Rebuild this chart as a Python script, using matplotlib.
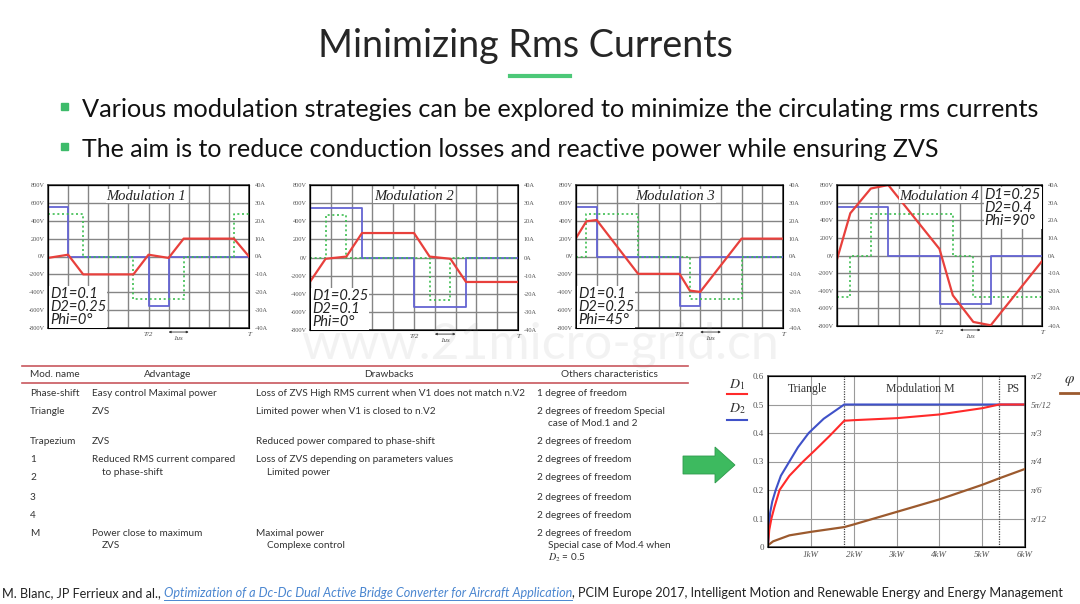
import matplotlib
matplotlib.use("Agg")
import matplotlib.pyplot as plt
import numpy as np
from matplotlib.lines import Line2D
from matplotlib.patches import Polygon, Rectangle

W, H = 1080, 604
SANS = ["Lato", "DejaVu Sans"]
SERIF = ["Liberation Serif", "DejaVu Serif"]
plt.rcParams["font.family"] = SANS
plt.rcParams["mathtext.fontset"] = "stix"

TITLE = "Minimizing Rms Currents"
BULLETS = ["Various modulation strategies can be explored to minimize the circulating rms currents",
           "The aim is to reduce conduction losses and reactive power while ensuring ZVS"]

# waveforms: time in grid units (T = 10), voltages in V, current in A
M1_V1_T = [0, 1, 1, 5, 5, 6, 6, 10]
M1_V1 = [550, 550, 0, 0, -550, -550, 0, 0]
M1_V2_T = [0, 1.75, 1.75, 4.25, 4.25, 6.75, 6.75, 9.25, 9.25, 10]
M1_V2 = [470, 470, 0, 0, -470, -470, 0, 0, 470, 470]
M1_I_T = [0, 1, 1.75, 4.25, 5, 6, 6.75, 9.25, 10]
M1_I = [-0.8, 1, -10, -10, 1, -0.8, 10, 10, 0]

M2_V1_T = [0, 2.5, 2.5, 5, 5, 7.5, 7.5, 10]
M2_V1 = [550, 550, 0, 0, -550, -550, 0, 0]
M2_V2_T = [0, 0.75, 0.75, 1.75, 1.75, 5.75, 5.75, 6.75, 6.75, 10]
M2_V2 = [0, 0, 470, 470, 0, 0, -470, -470, 0, 0]
M2_I_T = [0, 0.75, 1.75, 2.5, 5, 5.75, 6.75, 7.5, 10]
M2_I = [-13.4, -0.7, 0.5, 13.5, 13.5, 0.5, -0.7, -13.5, -13.5]

M3_V1_T = [0, 1, 1, 5, 5, 6, 6, 10]
M3_V1 = [550, 550, 0, 0, -550, -550, 0, 0]
M3_V2_T = [0, 0.5, 0.5, 3, 3, 5.5, 5.5, 8, 8, 10]
M3_V2 = [0, 0, 470, 470, 0, 0, -470, -470, 0, 0]
M3_I_T = [0, 0.5, 1, 3, 5, 5.5, 6, 8, 10]
M3_I = [10.3, 19.7, 20.4, -9.7, -9.7, -19.1, -19.8, 10, 10]

M4_V1_T = [0, 2.5, 2.5, 5, 5, 7.5, 7.5, 10]
M4_V1 = [550, 550, 0, 0, -550, -550, 0, 0]
M4_V2_T = [0, 0.65, 0.65, 1.65, 1.65, 5.65, 5.65, 6.65, 6.65, 10]
M4_V2 = [-470, -470, 0, 0, 470, 470, 0, 0, -470, -470]
M4_I_T = [0, 0.65, 1.65, 2.5, 5, 5.65, 6.65, 7.5, 10]
M4_I = [-2.2, 24, 38, 40, 3.7, -22.6, -37.7, -39.6, -3.2]

V_TICKS = [800, 600, 400, 200, 0, -200, -400, -600, -800]
A_TICKS = [40, 30, 20, 10, 0, -10, -20, -30, -40]

# table
TAB_HEAD = ["Mod. name", "Advantage", "Drawbacks", "Others characteristics"]
TAB_NAME = ["Phase-shift", "Triangle", "Trapezium", "1", "2", "3", "4", "M"]
TAB_ADV = ["Easy control Maximal power", "ZVS", "ZVS",
           "Reduced RMS current compared\nto phase-shift", "", "", "",
           "Power close to maximum\nZVS"]
TAB_DRAW = ["Loss of ZVS High RMS current when V1 does not match n.V2",
            "Limited power when V1 is closed to n.V2",
            "Reduced power compared to phase-shift",
            "Loss of ZVS depending on parameters values\nLimited power", "", "", "",
            "Maximal power\nComplexe control"]
TAB_OTHER = ["1 degree of freedom",
             "2 degrees of freedom Special\ncase of Mod.1 and 2",
             "2 degrees of freedom", "2 degrees of freedom", "2 degrees of freedom",
             "2 degrees of freedom", "2 degrees of freedom",
             "2 degrees of freedom\nSpecial case of Mod.4 when\n$D_2$ = 0.5"]

# optimal duty cycles vs power (kW)
P_D2 = [0, 0.02, 0.05, 0.1, 0.18, 0.3, 0.5, 0.7, 0.95, 1.3, 1.78, 6.0]
D2 = [0, 0.06, 0.12, 0.16, 0.2, 0.25, 0.3, 0.35, 0.4, 0.45, 0.5, 0.5]
P_D1 = [0, 0.03, 0.08, 0.15, 0.27, 0.5, 0.82, 1.1, 1.44, 1.78, 2.0, 3.0, 4.0, 5.0, 5.4, 6.0]
D1 = [0.01, 0.06, 0.1, 0.14, 0.2, 0.25, 0.3, 0.34, 0.39, 0.443, 0.445, 0.452, 0.465, 0.487, 0.5, 0.5]
P_PHI = [0, 0.12, 0.5, 1.0, 1.78, 2.0, 3.0, 4.0, 5.0, 5.4, 6.0]
PHI = [0.016, 0.052, 0.107, 0.139, 0.183, 0.207, 0.322, 0.437, 0.571, 0.631, 0.717]
P_BOUNDS = [1.78, 5.4]

CITE = ["M. Blanc, JP Ferrieux and al., ",
        "Optimization of a Dc-Dc Dual Active Bridge Converter for Aircraft Application",
        ", PCIM Europe 2017, Intelligent Motion and Renewable Energy and Energy Management"]

BLUE = "#6464d2"
RED = "#e8403c"
GREEN = "#3dbd50"
GRID = "#858585"


def fx(x):
    return x / W


def fy(y):
    return 1 - y / H


def rect(x0, y0, x1, y1):
    return [fx(x0), fy(y1), (x1 - x0) / W, (y1 - y0) / H]


fig = plt.figure(figsize=(W / 100, H / 100), dpi=100)
renderer = fig.canvas.get_renderer()


def fit_width(t, width_px):
    w = t.get_window_extent(renderer=renderer).width
    t.set_fontsize(t.get_fontsize() * width_px / w)


# header
t = fig.text(fx(525), fy(57), TITLE, ha="center", va="baseline", fontsize=26, color="#262626")
fit_width(t, 414)
fig.add_artist(Line2D([fx(510), fx(570)], [fy(76), fy(76)], color="#4cc878", lw=3))
for yb, txt, wpx in [(117, BULLETS[0], 955), (157, BULLETS[1], 860)]:
    fig.add_artist(Rectangle((fx(61), fy(yb - 7)), 7 / W, 7 / H, color="#3dbb6a",
                             transform=fig.transFigure))
    t = fig.text(fx(82), fy(yb), txt, va="baseline", fontsize=17, color="#111111")
    fit_width(t, wpx)

# waveform panels
panels = [
    ((48, 185, 249, 328), M1_V1_T, M1_V1, M1_V2_T, M1_V2, M1_I_T, M1_I, "Modulation 1", 4.9,
     "D1=0.1\nD2=0.25\nPhi=0°", "bl"),
    ((310, 185, 518, 330), M2_V1_T, M2_V1, M2_V2_T, M2_V2, M2_I_T, M2_I, "Modulation 2", 5.0,
     "D1=0.25\nD2=0.1\nPhi=0°", "bl"),
    ((576, 185, 783, 328), M3_V1_T, M3_V1, M3_V2_T, M3_V2, M3_I_T, M3_I, "Modulation 3", 4.8,
     "D1=0.1\nD2=0.25\nPhi=45°", "bl"),
    ((837, 185, 1042, 326), M4_V1_T, M4_V1, M4_V2_T, M4_V2, M4_I_T, M4_I, "Modulation 4", 5.0,
     "D1=0.25\nD2=0.4\nPhi=90°", "tr"),
]
for box, v1t, v1, v2t, v2, it, i, name, name_x, params, corner in panels:
    x0, y0, x1, y1 = box
    ax = fig.add_axes(rect(*box))
    ax.set_xlim(0, 10)
    ax.set_ylim(-800, 800)
    ax.set_xticks(range(11))
    ax.set_yticks(V_TICKS)
    ax.set_yticklabels([f"{v}V" for v in V_TICKS], family=SERIF)
    ax.set_xticklabels([])
    ax.grid(True, color=GRID, lw=1.0)
    ax.tick_params(length=0, labelsize=4.6, colors="#555555", pad=2)
    for s in ax.spines.values():
        s.set_color("#333333")
        s.set_linewidth(1.1)
    ax.plot(v1t, v1, color=BLUE, lw=1.3, zorder=3)
    ax.plot(v2t, v2, color=GREEN, lw=1.2, ls=(0, (1.2, 1.6)), zorder=3)
    ax2 = ax.twinx()
    ax2.set_ylim(-40, 40)
    ax2.set_yticks(A_TICKS)
    ax2.set_yticklabels([f"{a}A" for a in A_TICKS], family=SERIF)
    ax2.tick_params(length=0, labelsize=4.6, colors="#555555", pad=4)
    ax2.plot(it, i, color=RED, lw=1.6)
    gw = (x1 - x0) / 10
    fig.text(fx(x0 + name_x * gw), fy(y0 + 11), name, ha="center", va="center", family=SERIF,
             style="italic", fontsize=10.5, color="#222222",
             bbox=dict(fc="white", ec="none", pad=0.5))
    if corner == "bl":
        fig.text(fx(x0 + 2), fy(y1 - 1), params, ha="left", va="bottom", style="italic",
                 fontsize=10.5, linespacing=0.92, color="#222222",
                 bbox=dict(fc="white", ec="none", pad=0.5))
    else:
        fig.text(fx(x0 + 7.2 * gw), fy(y0 + 3), params, ha="left", va="top", style="italic",
                 fontsize=10.5, linespacing=0.92, color="#222222",
                 bbox=dict(fc="white", ec="none", pad=0.5))
    fig.text(fx(x0 + 5 * gw), fy(y1 + 6), "T/2", ha="center", va="center", family=SERIF,
             style="italic", fontsize=5, color="#444444")
    fig.text(fx(x1), fy(y1 + 6), "T", ha="center", va="center", family=SERIF,
             style="italic", fontsize=5, color="#444444")
    ax.annotate("", xy=(7, -845), xytext=(6, -845), annotation_clip=False,
                arrowprops=dict(arrowstyle="<|-|>", lw=0.6, color="#333333",
                                mutation_scale=3, shrinkA=0, shrinkB=0))
    fig.text(fx(x0 + 6.5 * gw), fy(y1 + 10), "1us", ha="center", va="center", family=SERIF,
             style="italic", fontsize=5, color="#444444")

# watermark
fig.text(fx(540), fy(345), "www.21micro-grid.cn", ha="center", va="center", fontsize=36,
         color="#9a9a9a", alpha=0.12, zorder=1)

# table
TCOL = "#c8575d"
for yl in (366, 383):
    fig.add_artist(Line2D([fx(22), fx(688)], [fy(yl), fy(yl)], color=TCOL, lw=1.2))
tsz = 7.5
probe = fig.text(0, 0, TAB_DRAW[0], fontsize=tsz)
fit_width(probe, 267)
tsz = probe.get_fontsize()
probe.remove()
fig.text(fx(30), fy(374.5), TAB_HEAD[0], va="center", fontsize=tsz, color="#333333")
for cx, h in [(168, TAB_HEAD[1]), (389, TAB_HEAD[2]), (609, TAB_HEAD[3])]:
    fig.text(fx(cx), fy(374.5), h, ha="center", va="center", fontsize=tsz, color="#333333")
row_y = [393, 411, 442, 460, 478, 497, 515, 533]
cols = [(30, 0, TAB_NAME), (92, 10, TAB_ADV), (256, 11, TAB_DRAW), (537, 11, TAB_OTHER)]
for cx, indent, col in cols:
    for ry, cell in zip(row_y, col):
        for k, line in enumerate(cell.split("\n")):
            if line:
                fig.text(fx(cx + (indent if k else 0)), fy(ry + 12.5 * k), line, va="center",
                         fontsize=tsz, color="#333333")

# arrow
fig.add_artist(Polygon([(fx(683), fy(456)), (fx(715), fy(456)), (fx(715), fy(447)),
                        (fx(735), fy(465)), (fx(715), fy(483)), (fx(715), fy(474)),
                        (fx(683), fy(474))], closed=True, fc="#3dba5f", ec="#2f9a4c", lw=0.6,
                       transform=fig.transFigure))

# duty cycle chart
cx0, cy0, cx1, cy1 = 768, 376, 1025, 547
axc = fig.add_axes(rect(cx0, cy0, cx1, cy1))
axc.set_xlim(0, 6)
axc.set_ylim(0, 0.6)
axc.set_xticks([1, 2, 3, 4, 5, 6])
axc.set_xticklabels([f"{k}kW" for k in range(1, 7)], family=SERIF, style="italic")
axc.set_yticks([0, 0.1, 0.2, 0.3, 0.4, 0.5, 0.6])
axc.set_yticklabels(["0", "0.1", "0.2", "0.3", "0.4", "0.5", "0.6"], family=SERIF)
axc.tick_params(length=0, labelsize=6.5, colors="#555555", pad=3)
axc.grid(True, color="#9a9a9a", lw=0.8)
for s in axc.spines.values():
    s.set_color("#444444")
    s.set_linewidth(1.1)
for pb in P_BOUNDS:
    axc.axvline(pb, color="#444444", lw=0.9, ls=(0, (1, 1)))
axc.plot(P_D2, D2, color="#3f51c8", lw=1.5)
axc.plot(P_D1, D1, color="#ff2a2a", lw=1.5)
axc2 = axc.twinx()
axc2.set_ylim(0, np.pi / 2)
axc2.set_yticks([np.pi * k / 12 for k in range(1, 7)])
axc2.set_yticklabels(["π/12", "π/6", "π/4", "π/3", "5π/12", "π/2"], family=SERIF, style="italic")
axc2.tick_params(length=0, labelsize=6.5, colors="#555555", pad=4)
axc2.plot(P_PHI, PHI, color="#9c5a2e", lw=1.6)
for xk, lab in [(0.93, "Triangle"), (3.55, "Modulation M"), (5.72, "PS")]:
    axc.text(xk, 0.553, lab, ha="center", va="center", family=SERIF, fontsize=8.5,
             color="#333333")

# legend marks beside the chart
for yl, yu, lab, col in [(385, 394, "$D_1$", "#ff2a2a"), (409, 420, "$D_2$", "#3f51c8")]:
    fig.text(fx(737), fy(yl), lab, ha="center", va="center", fontsize=10, color="#333333")
    fig.add_artist(Line2D([fx(727), fx(747)], [fy(yu), fy(yu)], color=col, lw=1.5))
fig.text(fx(1070), fy(381), "$\\varphi$", ha="center", va="center", fontsize=11, color="#333333")
fig.add_artist(Line2D([fx(1060), fx(1080)], [fy(393), fy(393)], color="#9c5a2e", lw=2))

# citation
csz = 8.5
parts = []
for k, txt in enumerate(CITE):
    parts.append(fig.text(0, fy(597), txt, va="baseline", fontsize=csz,
                          style="italic" if k == 1 else "normal",
                          color="#4a86d0" if k == 1 else "#222222"))
total = sum(p.get_window_extent(renderer=renderer).width for p in parts)
xpos = 2
for p in parts:
    p.set_fontsize(csz * 1066 / total)
for k, p in enumerate(parts):
    p.set_x(fx(xpos))
    w = p.get_window_extent(renderer=renderer).width
    if k == 1:
        fig.add_artist(Line2D([fx(xpos), fx(xpos + w)], [fy(600), fy(600)], color="#4a86d0",
                              lw=0.7))
    xpos += w

fig.savefig("out.png", dpi=100)
